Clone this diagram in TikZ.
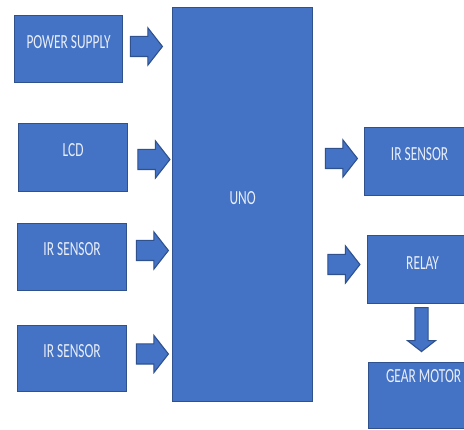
\documentclass[tikz,border=0pt]{standalone}
\usepackage{fontspec}
\setmainfont{Carlito}[FakeStretch=0.67]
\usetikzlibrary{shapes.arrows}
\definecolor{boxfill}{HTML}{4472C4}
\definecolor{boxline}{HTML}{2F528F}
\definecolor{boxtext}{HTML}{E8EEF8}
\tikzset{
  blk/.style={rectangle, draw=boxline, fill=boxfill, line width=1.2pt, inner sep=0pt, anchor=north west},
  lbl/.style={text=boxtext, font=\fontsize{20}{22}\selectfont, inner sep=0pt},
  harrow/.style={single arrow, draw=boxline, fill=boxfill, line width=1.1pt, inner xsep=0pt, inner ysep=9.5pt,
    minimum height=32pt, single arrow head extend=8.5pt,
    single arrow tip angle=104, single arrow head indent=0pt},
  varrow/.style={single arrow, draw=boxline, fill=boxfill, line width=1.1pt, inner sep=6pt,
    minimum height=44pt, single arrow head extend=7.5pt,
    single arrow tip angle=104, single arrow head indent=0pt, shape border rotate=270}
}
\begin{document}
\begin{tikzpicture}[x=1pt,y=-1pt]
\useasboundingbox (0,0) rectangle (464,430);
\clip (0,0) rectangle (464,430);
\fill[white] (0,0) rectangle (464,430);
% boxes
\node[blk, minimum width=108pt, minimum height=67pt] (ps) at (14,15) {};
\node[blk, minimum width=109pt, minimum height=68pt] (lcd) at (18,123) {};
\node[blk, minimum width=109pt, minimum height=67pt] (ir1) at (17,223) {};
\node[blk, minimum width=109pt, minimum height=66pt] (ir2) at (17,325) {};
\node[blk, minimum width=140pt, minimum height=394pt] (uno) at (172,7) {};
\node[blk, minimum width=110pt, minimum height=68pt] (rir) at (364,127) {};
\node[blk, minimum width=110pt, minimum height=68pt] (relay) at (367,235) {};
\node[blk, minimum width=110pt, minimum height=66pt] (gear) at (368,362) {};
% labels
\node[lbl] (psT) at ([yshift=7pt]ps.center) {POWER SUPPLY};
\node[lbl] (lcdT) at ([yshift=8pt]lcd.center) {LCD};
\node[lbl] (ir1T) at ([yshift=8pt]ir1.center) {IR SENSOR};
\node[lbl] (ir2T) at ([yshift=8pt]ir2.center) {IR SENSOR};
\node[lbl] (unoT) at ([yshift=7pt]uno.center) {UNO};
\node[lbl] (rirT) at ([yshift=8pt]rir.center) {IR SENSOR};
\node[lbl] (relayT) at ([yshift=7pt]relay.center) {RELAY};
\node[lbl] (gearT) at ([yshift=20pt]gear.center) {GEAR MOTOR};
% block arrows
\node[harrow] (a1) at (142.5,46.5) {};
\node[harrow] (a2) at (150,159.5) {};
\node[harrow] (a3) at (148.5,250.5) {};
\node[harrow] (a4) at (148.5,354) {};
\node[harrow] (a5) at (337.5,158.5) {};
\node[harrow] (a6) at (340,264.5) {};
\node[varrow] (a7) at (421.5,327) {};
\end{tikzpicture}
\end{document}
